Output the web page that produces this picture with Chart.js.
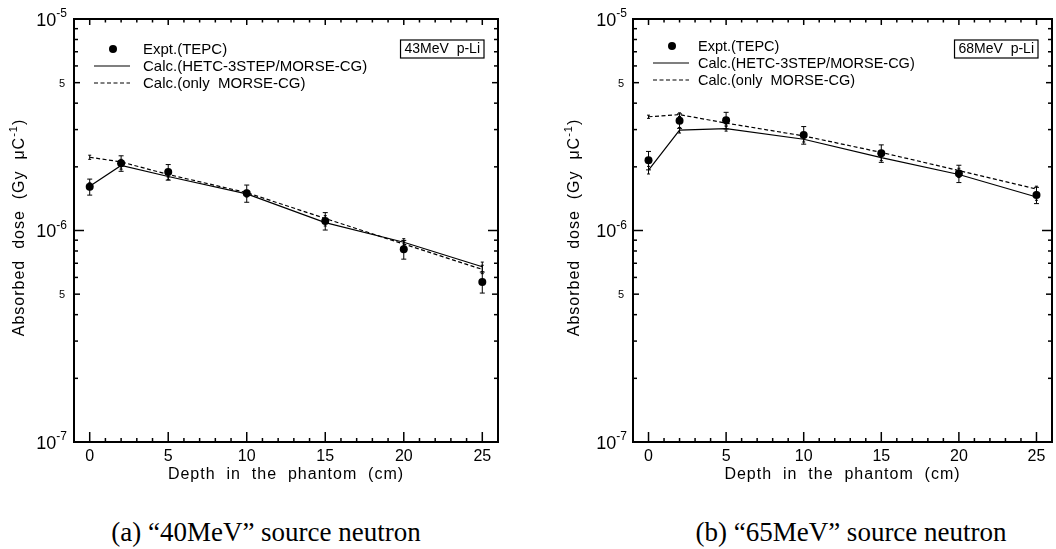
<!DOCTYPE html>
<html>
<head>
<meta charset="utf-8">
<script src="https://cdn.jsdelivr.net/npm/chart.js@4/dist/chart.umd.min.js"></script>
<style>
  body { margin: 0; background: #fff; width: 1056px; height: 549px; overflow: hidden; position: relative; }
  canvas { position: absolute; top: 0; }
  .cap { position: absolute; top: 517px; line-height: 30px; font-family: "Liberation Serif", "Times New Roman", serif; font-size: 27px; white-space: nowrap; transform: translateX(-50%); color: #000; }
</style>
</head>
<body>
<canvas id="left" width="528" height="490" style="left:0"></canvas>
<canvas id="right" width="528" height="490" style="left:528px"></canvas>
<div class="cap" style="left:266px">(a) “40MeV” source neutron</div>
<div class="cap" style="left:851px">(b) “65MeV” source neutron</div>
<script>
// depth in the phantom (cm)
var depth = [0, 2, 5, 10, 15, 20, 25];

// 43MeV p-Li
var expt43 = [1.61e-6, 2.08e-6, 1.89e-6, 1.50e-6, 1.11e-6, 8.15e-7, 5.71e-7];
var expt43Err = [0.14e-6, 0.175e-6, 0.16e-6, 0.14e-6, 0.105e-6, 0.083e-6, 0.065e-6];
var hetc43 = [1.62e-6, 2.03e-6, 1.80e-6, 1.49e-6, 1.09e-6, 8.8e-7, 6.74e-7];
var hetc43Err = [0.06e-6, 0.08e-6, 0.06e-6, 0.05e-6, 0.04e-6, 0.035e-6, 0.035e-6];
var morse43 = [2.22e-6, 2.11e-6, 1.84e-6, 1.51e-6, 1.14e-6, 8.63e-7, 6.55e-7];
var morse43Err = [0.05e-6, 0.06e-6, 0.05e-6, 0.04e-6, 0.035e-6, 0.03e-6, 0.03e-6];

// 68MeV p-Li
var expt68 = [2.15e-6, 3.30e-6, 3.32e-6, 2.83e-6, 2.32e-6, 1.86e-6, 1.47e-6];
var expt68Err = [0.215e-6, 0.26e-6, 0.30e-6, 0.27e-6, 0.22e-6, 0.175e-6, 0.13e-6];
var hetc68 = [1.93e-6, 2.98e-6, 3.03e-6, 2.70e-6, 2.21e-6, 1.84e-6, 1.44e-6];
var hetc68Err = [0.08e-6, 0.09e-6, 0.08e-6, 0.08e-6, 0.07e-6, 0.06e-6, 0.05e-6];
var morse68 = [3.45e-6, 3.53e-6, 3.22e-6, 2.80e-6, 2.34e-6, 1.92e-6, 1.57e-6];
var morse68Err = [0.06e-6, 0.07e-6, 0.07e-6, 0.06e-6, 0.05e-6, 0.05e-6, 0.05e-6];

var legendLabels = ['Expt.(TEPC)', 'Calc.(HETC-3STEP/MORSE-CG)', 'Calc.(only  MORSE-CG)'];
var xTicks = [0, 5, 10, 15, 20, 25];
var yDecades = [1e-7, 1e-6, 1e-5];
var yDecadeExp = ['-7', '-6', '-5'];
var yHalves = [5e-7, 5e-6];

var SANS = '"Liberation Sans", Arial, sans-serif';

function pts(xs, ys) {
  return xs.map(function (x, i) { return { x: x, y: ys[i] }; });
}

function line(ctx, x1, y1, x2, y2) {
  ctx.beginPath(); ctx.moveTo(x1, y1); ctx.lineTo(x2, y2); ctx.stroke();
}

// error bars with small caps
var errorBars = {
  id: 'errorBars',
  afterDatasetsDraw: function (chart) {
    var ctx = chart.ctx, ys = chart.scales.y;
    ctx.save();
    ctx.strokeStyle = '#000';
    ctx.lineWidth = 1;
    chart.data.datasets.forEach(function (ds, di) {
      if (!ds.errs) return;
      var meta = chart.getDatasetMeta(di);
      meta.data.forEach(function (el, i) {
        var v = ds.data[i].y, e = ds.errs[i];
        var top = ys.getPixelForValue(v + e), bot = ys.getPixelForValue(v - e);
        var w = ds.capWidth;
        line(ctx, el.x, top, el.x, bot);
        line(ctx, el.x - w, top, el.x + w, top);
        line(ctx, el.x - w, bot, el.x + w, bot);
      });
    });
    ctx.restore();
  }
};

function makeFrame(opts) {
  return {
    id: 'frame',
    afterDraw: function (chart) {
      var ctx = chart.ctx, a = chart.chartArea, xs = chart.scales.x, ys = chart.scales.y;
      ctx.save();
      ctx.strokeStyle = '#000';
      ctx.fillStyle = '#000';

      // x ticks, inward on bottom and top
      ctx.lineWidth = 1.5;
      for (var v = 0; v <= 25; v++) {
        var px = xs.getPixelForValue(v);
        var major = v % 5 === 0;
        line(ctx, px, a.bottom, px, a.bottom - (major ? 10 : 4));
        line(ctx, px, a.top, px, a.top + (major ? 6 : 3.5));
      }
      // y ticks, inward on left and right
      for (var d = -7; d <= -6; d++) {
        for (var m = 1; m <= 9; m++) {
          var py = ys.getPixelForValue(m * Math.pow(10, d));
          var len = m === 1 ? 10 : (m === 5 ? 6 : 4);
          line(ctx, a.left, py, a.left + len, py);
          line(ctx, a.right, py, a.right - len, py);
        }
      }

      // frame
      ctx.lineWidth = 2;
      ctx.strokeRect(a.left, a.top, a.right - a.left, a.bottom - a.top);

      // x tick labels
      ctx.font = '16px ' + SANS;
      ctx.textAlign = 'center';
      ctx.textBaseline = 'middle';
      xTicks.forEach(function (t) {
        ctx.fillText(String(t), xs.getPixelForValue(t), a.bottom + 15);
      });

      // y tick labels
      yDecades.forEach(function (t, i) {
        var py = ys.getPixelForValue(t);
        ctx.font = '12px ' + SANS;
        ctx.textAlign = 'right';
        var ex = a.left - opts.expGap;
        ctx.fillText(yDecadeExp[i], ex, py - 5);
        var ew = ctx.measureText(yDecadeExp[i]).width;
        ctx.font = '18px ' + SANS;
        ctx.fillText('10', ex - ew, py + 2);
      });
      ctx.font = '11px ' + SANS;
      ctx.textAlign = 'center';
      yHalves.forEach(function (t) {
        ctx.fillText('5', a.left - 12, ys.getPixelForValue(t) + 1);
      });

      // axis titles
      ctx.letterSpacing = '1px';
      ctx.font = '16px ' + SANS;
      ctx.textAlign = 'center';
      ctx.fillText('Depth  in  the  phantom  (cm)', (a.left + a.right) / 2, a.bottom + 33);

      ctx.save();
      ctx.translate(a.left - opts.titleGap, (a.top + a.bottom) / 2 - 3);
      ctx.rotate(-Math.PI / 2);
      var main = 'Absorbed  dose  (Gy  \u03bcC';
      var sup = '-1';
      var tail = ')';
      ctx.font = '16px ' + SANS;
      var w1 = ctx.measureText(main).width, w3 = ctx.measureText(tail).width;
      ctx.font = '11px ' + SANS;
      var w2 = ctx.measureText(sup).width;
      var x0 = -(w1 + w2 + w3) / 2;
      ctx.textAlign = 'left';
      ctx.font = '16px ' + SANS;
      ctx.fillText(main, x0, 0);
      ctx.font = '11px ' + SANS;
      ctx.fillText(sup, x0 + w1, -6);
      ctx.font = '16px ' + SANS;
      ctx.fillText(tail, x0 + w1 + w2, 0);
      ctx.restore();
      ctx.letterSpacing = '0px';

      // legend
      var lx = a.left, ly = opts.legendTop;
      ctx.font = opts.legendFont + 'px ' + SANS;
      ctx.textAlign = 'left';
      ctx.textBaseline = 'middle';
      ctx.beginPath();
      ctx.arc(lx + 39, ly, 4, 0, Math.PI * 2);
      ctx.fill();
      ctx.lineWidth = 1.2;
      line(ctx, lx + 20, ly + 17, lx + 56, ly + 17);
      ctx.setLineDash([4, 2.5]);
      line(ctx, lx + 20, ly + 34, lx + 56, ly + 34);
      ctx.setLineDash([]);
      legendLabels.forEach(function (s, i) {
        ctx.fillText(s, lx + opts.legendText, ly + 17 * i + 1);
      });

      // energy box
      ctx.font = '14px ' + SANS;
      var bw = ctx.measureText(opts.box).width + 8;
      var bx = a.right - opts.boxGap - bw, by = a.top + 21;
      ctx.lineWidth = 1.2;
      ctx.strokeRect(bx, by, bw, 18);
      ctx.textAlign = 'center';
      ctx.fillText(opts.box, bx + bw / 2, by + 9.5);

      ctx.restore();
    }
  };
}

function makeChart(id, expt, exptErr, hetc, hetcErr, morse, morseErr, pad, opts) {
  return new Chart(document.getElementById(id), {
    type: 'scatter',
    data: {
      datasets: [
        {
          label: legendLabels[0], data: pts(depth, expt), errs: exptErr, capWidth: 2.5,
          showLine: false, pointRadius: 4, pointBackgroundColor: '#000', pointBorderColor: '#000', pointBorderWidth: 0
        },
        {
          label: legendLabels[1], data: pts(depth, hetc), errs: hetcErr, capWidth: 1.5,
          showLine: true, borderColor: '#000', borderWidth: 1.2, pointRadius: 0, order: 1
        },
        {
          label: legendLabels[2], data: pts(depth, morse), errs: morseErr, capWidth: 1.5,
          showLine: true, borderColor: '#000', borderWidth: 1.2, borderDash: [4, 2.5], pointRadius: 0, order: 1
        }
      ]
    },
    options: {
      responsive: false,
      animation: false,
      devicePixelRatio: 1,
      layout: { padding: pad },
      plugins: { legend: { display: false }, tooltip: { enabled: false } },
      scales: {
        x: { type: 'linear', min: -1, max: 26, display: false },
        y: { type: 'logarithmic', min: 1e-7, max: 1e-5, display: false }
      }
    },
    plugins: [errorBars, makeFrame(opts)]
  });
}

makeChart('left', expt43, expt43Err, hetc43, hetc43Err, morse43, morse43Err,
  { left: 74, right: 30, top: 19, bottom: 48 },
  { box: '43MeV  p-Li', boxGap: 14, legendTop: 49, legendFont: 15, legendText: 69, expGap: 7, titleGap: 54 });

makeChart('right', expt68, expt68Err, hetc68, hetc68Err, morse68, morse68Err,
  { left: 105, right: 4, top: 19, bottom: 48 },
  { box: '68MeV  p-Li', boxGap: 14, legendTop: 46, legendFont: 14.5, legendText: 65, expGap: 6, titleGap: 58 });
</script>
</body>
</html>
